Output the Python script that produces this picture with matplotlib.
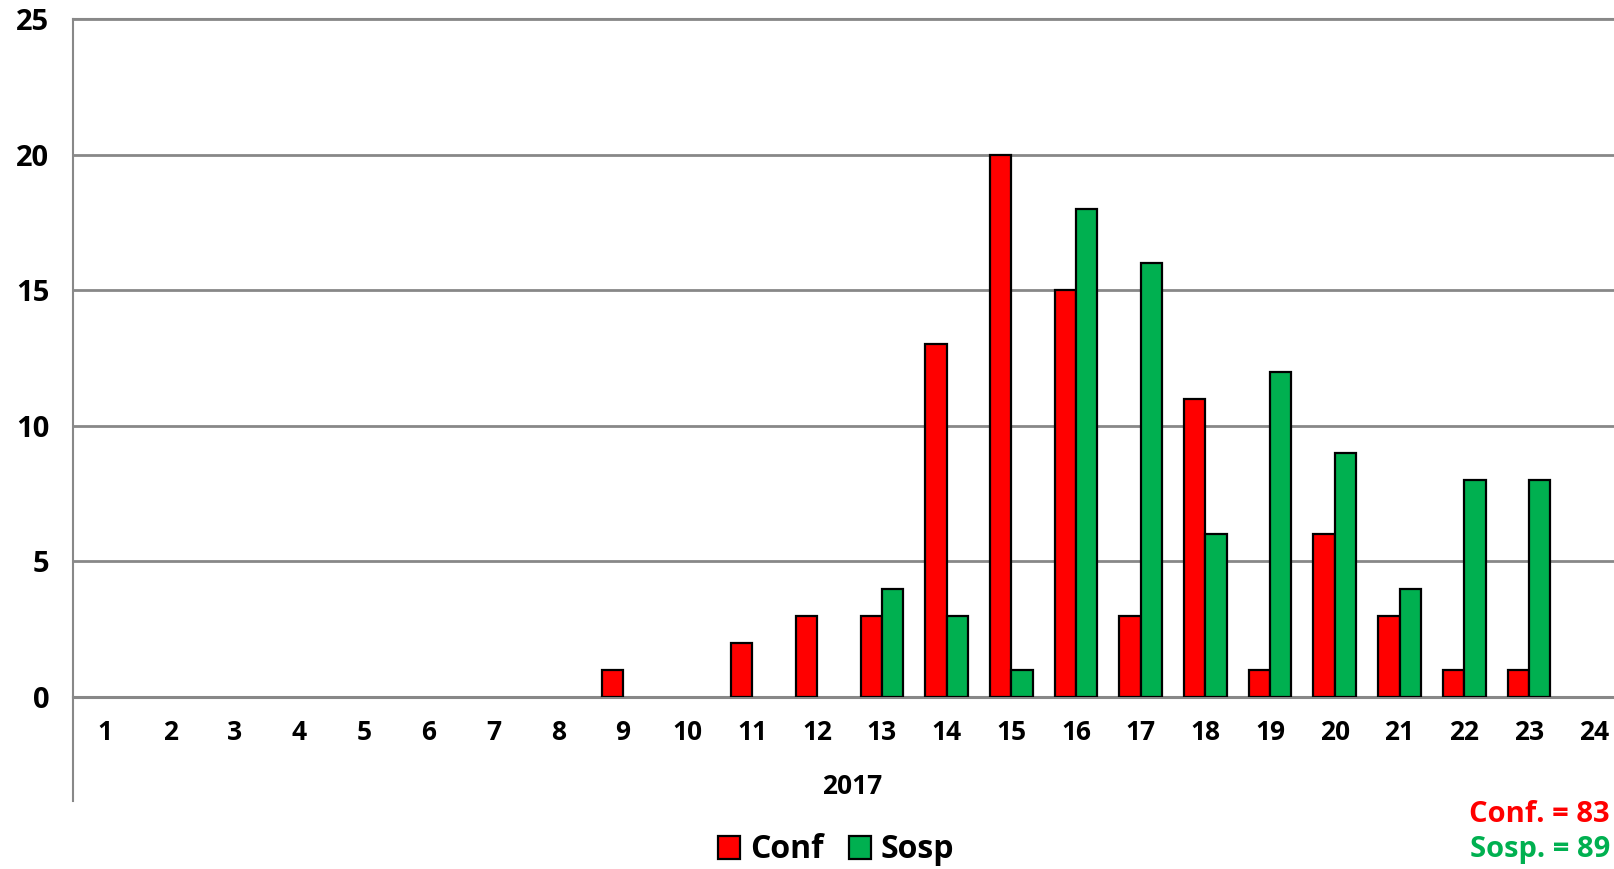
import matplotlib.pyplot as plt
import numpy as np

# Weekly cases 2017: confirmed vs suspected
weeks = [str(w) for w in range(1, 25)]
conf = [0, 0, 0, 0, 0, 0, 0, 0, 1, 0, 2, 3, 3, 13, 20, 15, 3, 11, 1, 6, 3, 1, 1, 0]
sosp = [0, 0, 0, 0, 0, 0, 0, 0, 0, 0, 0, 0, 4, 3, 1, 18, 16, 6, 12, 9, 4, 8, 8, 0]
year_label = '2017'
totals = {'Conf.': sum(conf), 'Sosp.': sum(sosp)}

plt.rcParams['font.family'] = ['Open Sans', 'DejaVu Sans']
plt.rcParams['font.weight'] = 'bold'

red = '#FF0000'
green = '#00B050'
grey = '#888888'

fig = plt.figure(figsize=(16.14, 8.69), dpi=100)
ax = fig.add_axes([73 / 1614, 172 / 869, 1553 / 1614, 678 / 869])

x = np.arange(len(weeks))
w = 0.33
# zero values get no outline so they stay invisible, as in the original
ax.bar(x - w / 2, conf, w, color=red, edgecolor='black',
       linewidth=[1.6 if v else 0 for v in conf], label='Conf', zorder=3)
ax.bar(x + w / 2, sosp, w, color=green, edgecolor='black',
       linewidth=[1.6 if v else 0 for v in sosp], label='Sosp', zorder=3)

ax.set_xlim(-0.5, len(weeks) - 0.5)
ax.set_ylim(0, 25)
ax.set_yticks(range(0, 26, 5))
ax.set_xticks(x)
ax.set_xticklabels(weeks)
ax.tick_params(axis='both', length=0)
ax.tick_params(axis='y', pad=17, labelsize=21)
ax.tick_params(axis='x', pad=16, labelsize=19)
for lbl in ax.get_xticklabels() + ax.get_yticklabels():
    lbl.set_fontweight('bold')

ax.grid(axis='y', color=grey, linewidth=2, zorder=0)
ax.spines['right'].set_visible(False)
ax.spines['top'].set_color(grey)
ax.spines['top'].set_linewidth(1.5)
ax.spines['left'].set_color(grey)
ax.spines['left'].set_linewidth(1.5)
ax.spines['bottom'].set_color(grey)
ax.spines['bottom'].set_linewidth(2.2)

# extended left line of the multi-level category axis
ax.plot([0, 0], [0, -0.153], transform=ax.transAxes, color=grey, lw=1.5, clip_on=False)

fig.text(852 / 1614, 1 - 786 / 869, year_label, ha='center', va='center',
         fontsize=19, fontweight='bold')

leg = fig.legend(loc='center', bbox_to_anchor=(836 / 1614, 1 - 850 / 869), ncol=2,
                 frameon=False, handlelength=0.7, handleheight=0.7,
                 handletextpad=0.3, columnspacing=0.8,
                 prop={'weight': 'bold', 'size': 23})
for p in leg.get_patches():
    p.set_linewidth(1.6)

fig.text(1610 / 1614, 1 - 815 / 869, f"Conf. = {totals['Conf.']}", color=red,
         ha='right', va='center', fontsize=21, fontweight='bold')
fig.text(1610 / 1614, 1 - 850 / 869, f"Sosp. = {totals['Sosp.']}", color=green,
         ha='right', va='center', fontsize=21, fontweight='bold')

fig.savefig('out.png', dpi=100)
